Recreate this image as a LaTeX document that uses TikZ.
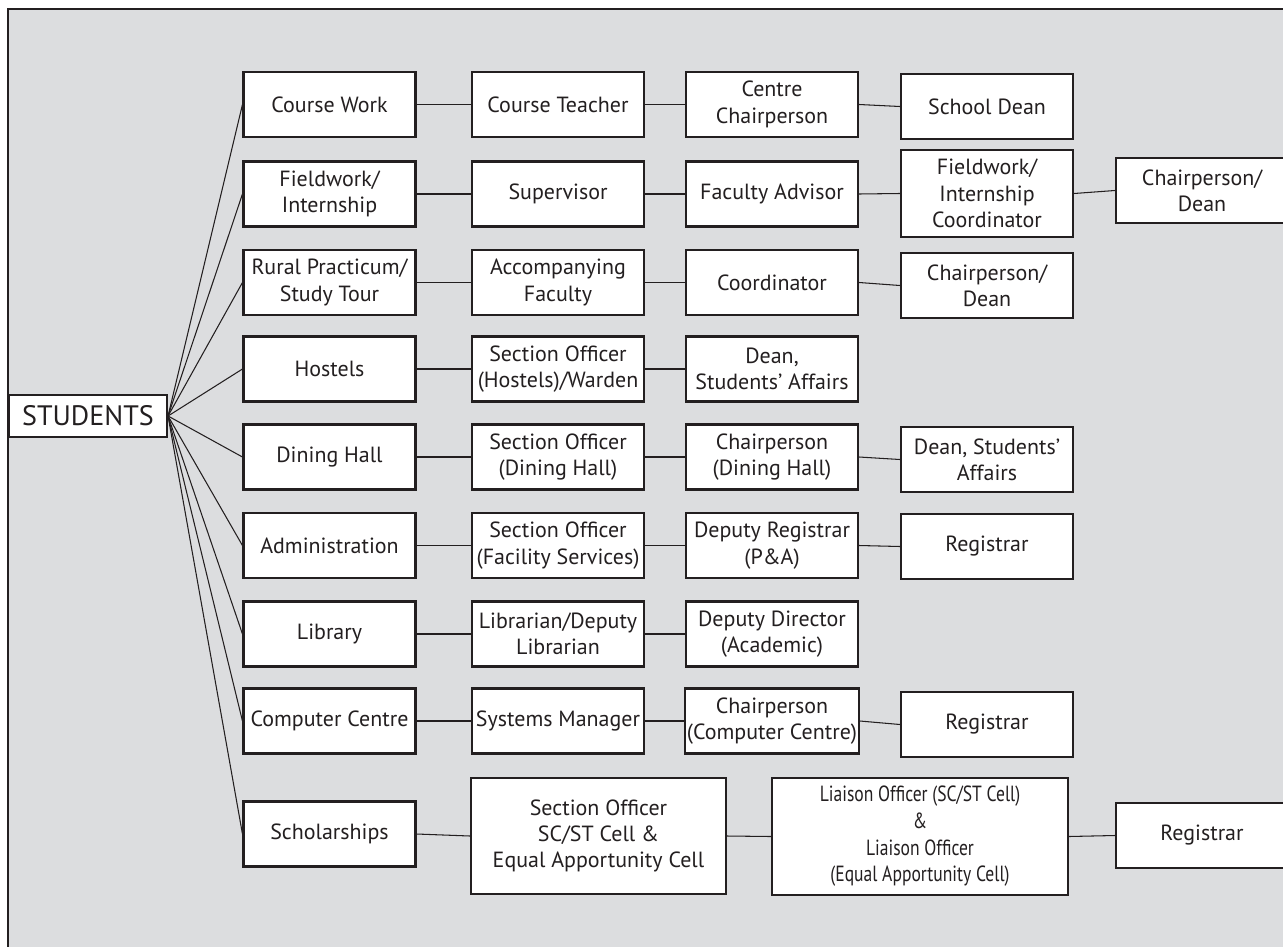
\documentclass[tikz,border=0pt]{standalone}
\usepackage{fontspec}
\setmainfont{PT Sans}
\newfontfamily\grcond[FakeStretch=0.8]{PT Sans}
\usepackage{xcolor}
\definecolor{grbg}{HTML}{DCDDDF}
\definecolor{grink}{HTML}{231F20}
\usepackage{tikz}
\tikzset{
  grbox/.style  ={rectangle, draw=grink, fill=white, line width=1.2pt,
                  minimum width=3.44cm, minimum height=1.3cm, inner sep=1pt,
                  align=center, font=\fontsize{12.5}{15}\selectfont, text=grink},
  grtall/.style ={grbox, minimum height=1.74cm},
  grbig/.style  ={grbox, minimum height=2.33cm},
  grroot/.style ={grbox, minimum width=3.16cm, minimum height=0.84cm,
                  font=\fontsize{16}{18}\selectfont},
  grlink/.style ={draw=grink, line width=0.6pt},
  grframe/.style={draw=grink, fill=grbg, line width=0.6pt},
}

\begin{document}
\begin{tikzpicture}[x=0.02cm, y=-0.02cm]
  \useasboundingbox (0,0) rectangle (1283,946);
  \draw[grframe] (8,9) rectangle (1300,960);
  \node[grroot] (st) at (88,416) {STUDENTS};
  % first column, fanned out from the root
  \foreach \n/\y/\t in {1/104.5/Course Work, 2/194/{Fieldwork/\\Internship},
      3/282.5/{Rural Practicum/\\Study Tour}, 4/369/Hostels, 5/457/Dining Hall,
      6/545.5/Administration, 7/634/Library, 8/721/Computer Centre,
      9/834/Scholarships}{
    \node[grbox] (a\n) at (329.5,\y) {\t};
    \draw[grlink] (st.east) -- (a\n.west);
  }
  % second column
  \node[grbox] (b1) at (558,104.5) {Course Teacher};
  \node[grbox] (b2) at (558,194)   {Supervisor};
  \node[grbox] (b3) at (558,282.5) {Accompanying\\Faculty};
  \node[grbox] (b4) at (558,369)   {Section Officer\\(Hostels)/Warden};
  \node[grbox] (b5) at (558,457)   {Section Officer\\(Dining Hall)};
  \node[grbox] (b6) at (558,545.5) {Section Officer\\(Facility Services)};
  \node[grbox] (b7) at (558,634)   {Librarian/Deputy\\Librarian};
  \node[grbox] (b8) at (558,721)   {Systems Manager};
  \node[grbig, minimum width=5.1cm] (b9) at (598.5,836)
       {Section Officer\\SC/ST Cell \&\\Equal Apportunity Cell};
  % third column
  \node[grbox] (c1) at (772,104.5) {Centre\\Chairperson};
  \node[grbox] (c2) at (772,194)   {Faculty Advisor};
  \node[grbox] (c3) at (772,282.5) {Coordinator};
  \node[grbox] (c4) at (772,369)   {Dean,\\Students’ Affairs};
  \node[grbox] (c5) at (772,457)   {Chairperson\\(Dining Hall)};
  \node[grbox] (c6) at (772,545.5) {Deputy Registrar\\(P\&A)};
  \node[grbox] (c7) at (772,634)   {Deputy Director\\(Academic)};
  \node[grbox] (c8) at (772,721)   {Chairperson\\(Computer Centre)};
  \node[grbig, minimum width=5.92cm,
        font=\grcond\fontsize{12.5}{15.2}\selectfont] (c9) at (920,836.5)
       {Liaison Officer (SC/ST Cell)\\\&\\Liaison Officer\\(Equal Apportunity Cell)};
  % fourth and fifth column
  \node[grbox]  (d1) at (987,106.5) {School Dean};
  \node[grtall] (d2) at (987,193.5) {Fieldwork/\\Internship\\Coordinator};
  \node[grbox]  (d3) at (987,285.5) {Chairperson/\\Dean};
  \node[grbox]  (d5) at (987,459.5) {Dean, Students’\\Affairs};
  \node[grbox]  (d6) at (987,546.5) {Registrar};
  \node[grbox]  (d8) at (987,724.5) {Registrar};
  \node[grbox]  (e2) at (1202,190.5) {Chairperson/\\Dean};
  \node[grbox]  (e9) at (1202,835.5) {Registrar};
  % chains along each row
  \foreach \p/\q in {a1/b1, b1/c1, c1/d1, a2/b2, b2/c2, c2/d2, d2/e2,
      a3/b3, b3/c3, c3/d3, a4/b4, b4/c4, a5/b5, b5/c5, c5/d5,
      a6/b6, b6/c6, c6/d6, a7/b7, b7/c7, a8/b8, b8/c8, c8/d8,
      a9/b9, b9/c9, c9/e9}
    \draw[grlink] (\p.east) -- (\q.west);
\end{tikzpicture}
\end{document}
